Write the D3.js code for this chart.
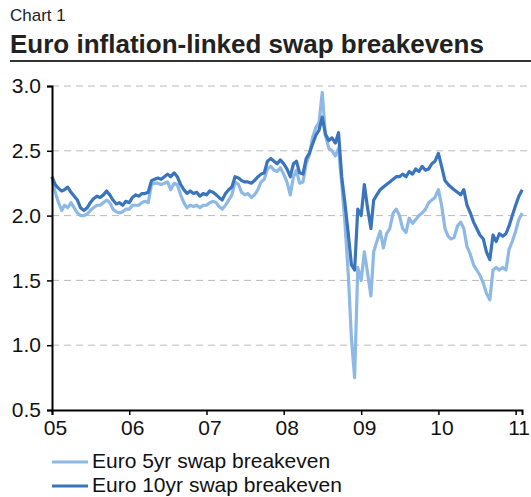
<!DOCTYPE html>
<html>
<head>
<meta charset="utf-8">
<script src="https://cdn.jsdelivr.net/npm/d3@7"></script>
<style>
  body { margin: 0; background: #fff; }
  svg { display: block; font-family: "Liberation Sans", Arial, sans-serif; }
</style>
</head>
<body>
<svg id="chart" width="531" height="497"></svg>
<script>
// half-monthly observations, Jan 2005 to end Jan 2011
const seriesNames = ["Euro 5yr swap breakeven", "Euro 10yr swap breakeven"];
const seriesColors = ["#8db9e4", "#3a74bd"];
const yTicks = [0.5, 1.0, 1.5, 2.0, 2.5, 3.0];

const fiveYr = [
  2.30,2.18,2.10,2.04,2.08,2.06,2.10,2.06,2.02,2.00,2.00,2.01,2.04,2.06,2.08,2.08,2.10,2.12,2.10,2.05,2.03,2.02,2.03,2.05,
  2.05,2.08,2.08,2.08,2.10,2.11,2.10,2.24,2.25,2.25,2.24,2.25,2.26,2.20,2.25,2.24,2.16,2.10,2.06,2.08,2.07,2.08,2.06,2.08,
  2.08,2.10,2.11,2.10,2.07,2.05,2.08,2.12,2.16,2.26,2.24,2.18,2.16,2.17,2.14,2.16,2.20,2.26,2.28,2.36,2.38,2.35,2.34,2.37,
  2.32,2.26,2.16,2.30,2.35,2.25,2.26,2.40,2.47,2.60,2.68,2.72,2.95,2.62,2.52,2.50,2.46,2.52,2.25,1.95,1.55,1.05,0.75,1.60,
  1.50,1.72,1.55,1.38,1.72,1.80,1.88,1.75,1.86,1.90,2.02,2.05,2.00,1.90,1.87,1.98,1.94,1.97,2.00,2.02,2.05,2.10,2.12,2.14,
  2.20,2.08,1.90,1.84,1.82,1.83,1.92,1.95,1.90,1.76,1.70,1.62,1.58,1.54,1.48,1.40,1.35,1.58,1.60,1.58,1.60,1.58,1.74,1.80,1.88,1.97,2.02
];
const tenYr = [
  2.30,2.24,2.21,2.19,2.20,2.22,2.18,2.15,2.12,2.06,2.04,2.06,2.10,2.13,2.15,2.14,2.16,2.19,2.16,2.12,2.09,2.10,2.08,2.11,
  2.10,2.14,2.16,2.15,2.17,2.17,2.18,2.27,2.28,2.29,2.28,2.30,2.32,2.30,2.33,2.30,2.24,2.20,2.17,2.19,2.17,2.18,2.15,2.17,
  2.16,2.19,2.18,2.16,2.14,2.12,2.17,2.20,2.22,2.30,2.29,2.27,2.26,2.26,2.25,2.27,2.30,2.32,2.33,2.42,2.44,2.42,2.40,2.43,
  2.40,2.36,2.30,2.40,2.42,2.33,2.32,2.44,2.48,2.55,2.62,2.66,2.76,2.63,2.58,2.60,2.56,2.64,2.30,2.10,1.86,1.62,1.58,2.05,
  2.00,2.24,2.05,1.90,2.12,2.16,2.20,2.22,2.24,2.26,2.28,2.30,2.30,2.32,2.30,2.34,2.32,2.36,2.34,2.38,2.35,2.36,2.40,2.42,
  2.48,2.38,2.27,2.24,2.22,2.20,2.18,2.16,2.20,2.08,2.02,1.95,1.90,1.85,1.82,1.72,1.66,1.85,1.80,1.86,1.84,1.86,1.92,2.00,2.08,2.15,2.20
];

// dates: 1st and 16th of each month, then 1 Feb 2011
const dates = d3.timeMonth.range(new Date(2005, 0, 1), new Date(2011, 1, 1))
  .flatMap(m => [m, d3.timeDay.offset(m, 15)]);
dates.push(new Date(2011, 1, 1));

const svg = d3.select("#chart");
const plot = { left: 52, right: 522, top: 86, bottom: 410 };

const x = d3.scaleTime()
  .domain([new Date(2005, 0, 1), new Date(2011, 0, 31)])
  .range([plot.left, plot.right]);
const y = d3.scaleLinear().domain([0.5, 3.0]).range([plot.bottom, plot.top]);

// header
svg.append("text").attr("x", 10).attr("y", 21)
  .style("font-size", "17px").style("fill", "#222").text("Chart 1");
svg.append("text").attr("x", 10).attr("y", 53)
  .style("font-size", "26px").style("font-weight", "bold").style("fill", "#222")
  .text("Euro inflation-linked swap breakevens");
svg.append("line").attr("x1", 10).attr("x2", 531).attr("y1", 61).attr("y2", 61)
  .attr("stroke", "#333").attr("stroke-width", 2);

// gridlines
svg.append("g").selectAll("line").data(yTicks.filter(d => d > 0.5)).enter().append("line")
  .attr("x1", plot.left).attr("x2", 529)
  .attr("y1", d => y(d)).attr("y2", d => y(d))
  .attr("stroke", "#bbb").attr("stroke-width", 1).attr("stroke-dasharray", "7,5");

// lines
const line = d3.line().x((d, i) => x(dates[i])).y(d => y(d));
[fiveYr, tenYr].forEach((s, k) => {
  svg.append("path").datum(s)
    .attr("fill", "none").attr("stroke", seriesColors[k])
    .attr("stroke-width", 3.2).attr("stroke-linejoin", "round")
    .attr("d", line);
});

// axes
const yAxis = svg.append("g").attr("transform", `translate(${plot.left},0)`)
  .call(d3.axisLeft(y).tickValues(yTicks).tickFormat(d3.format(".1f")).tickSize(5).tickPadding(6));
const xAxis = svg.append("g").attr("transform", `translate(0,${plot.bottom})`)
  .call(d3.axisBottom(x).ticks(d3.timeYear.every(1)).tickFormat(d3.timeFormat("%y")).tickSize(5).tickPadding(5));
[yAxis, xAxis].forEach(g => {
  g.select(".domain").attr("stroke", "#000").attr("stroke-width", 2);
  g.selectAll(".tick line").attr("stroke", "#000").attr("stroke-width", 1.5);
  g.selectAll(".tick text").style("font-size", "21px").style("fill", "#111")
    .style("font-family", '"Liberation Sans", Arial, sans-serif');
});
xAxis.selectAll(".tick text").attr("dx", 3);

// legend
const legend = svg.append("g").selectAll("g").data(seriesNames).enter().append("g")
  .attr("transform", (d, i) => `translate(0,${462 + i * 24})`);
legend.append("line").attr("x1", 52).attr("x2", 88)
  .attr("stroke", (d, i) => seriesColors[i]).attr("stroke-width", 3);
legend.append("text").attr("x", 92).attr("y", 6)
  .style("font-size", "21px").style("fill", "#111").text(d => d);
</script>
</body>
</html>
